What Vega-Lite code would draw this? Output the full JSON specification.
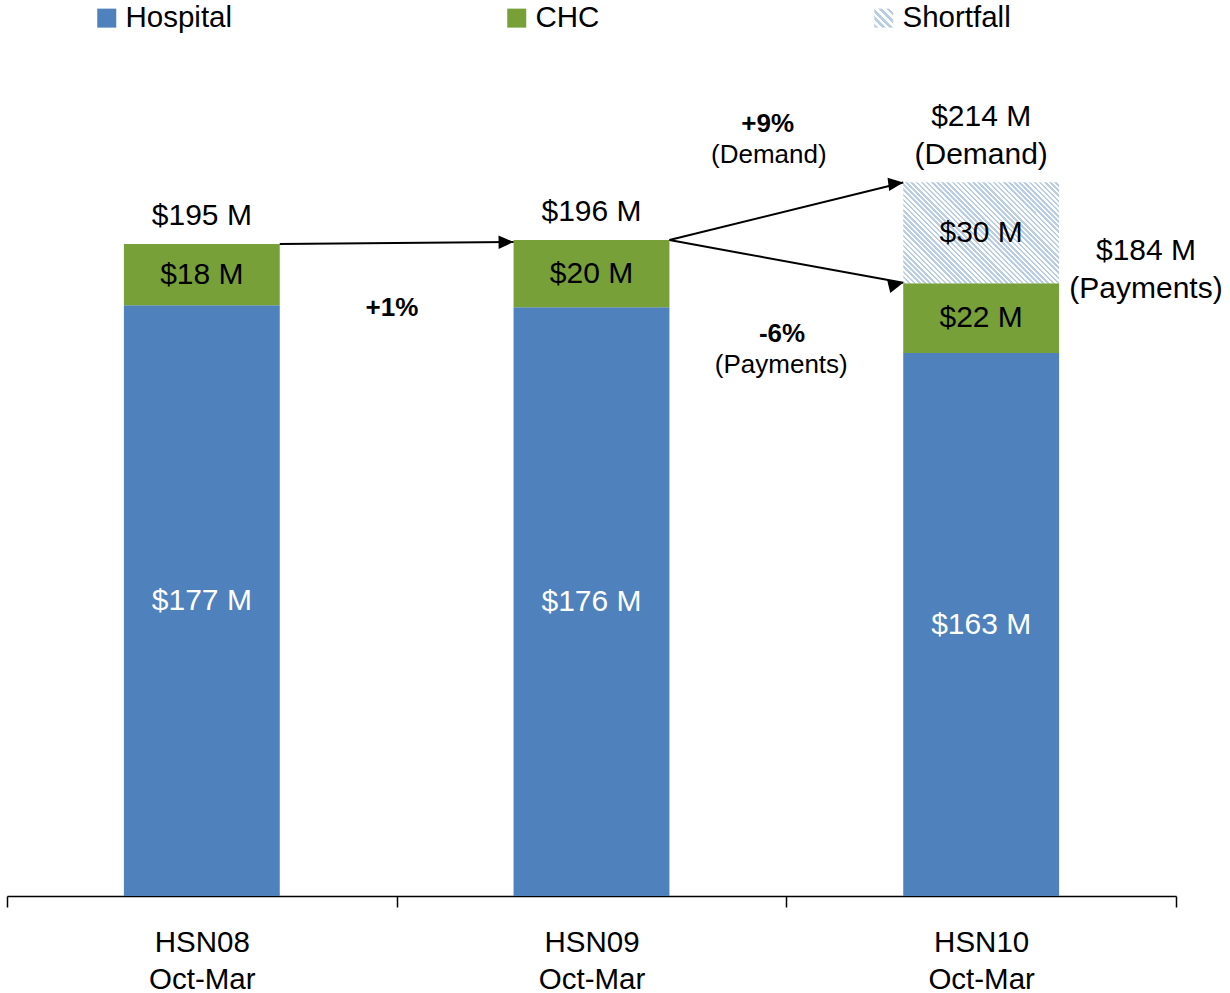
{
"$schema":"https://vega.github.io/schema/vega-lite/v6.json",
"width":1169,"height":896,
"padding":{"left":7,"top":0,"right":54,"bottom":97},
"autosize":{"type":"none"},
"config":{"view":{"stroke":null},"font":"Liberation Sans"},
"datasets":{
"bars":[
{"cat":"HSN08 Oct-Mar","series":"Hospital","idx":1,"value":176.7},
{"cat":"HSN08 Oct-Mar","series":"CHC","idx":2,"value":18.3},
{"cat":"HSN09 Oct-Mar","series":"Hospital","idx":1,"value":176.1},
{"cat":"HSN09 Oct-Mar","series":"CHC","idx":2,"value":20.1},
{"cat":"HSN10 Oct-Mar","series":"Hospital","idx":1,"value":162.4},
{"cat":"HSN10 Oct-Mar","series":"CHC","idx":2,"value":20.9},
{"cat":"HSN10 Oct-Mar","series":"Shortfall","idx":3,"value":30.2}],
"seg":[
{"cat":"HSN08 Oct-Mar","series":"Hospital","mid":88.35,"label":"$177 M"},
{"cat":"HSN08 Oct-Mar","series":"CHC","mid":185.85,"label":"$18 M"},
{"cat":"HSN09 Oct-Mar","series":"Hospital","mid":88.05,"label":"$176 M"},
{"cat":"HSN09 Oct-Mar","series":"CHC","mid":186.15,"label":"$20 M"},
{"cat":"HSN10 Oct-Mar","series":"Hospital","mid":81.2,"label":"$163 M"},
{"cat":"HSN10 Oct-Mar","series":"CHC","mid":172.85,"label":"$22 M"},
{"cat":"HSN10 Oct-Mar","series":"Shortfall","mid":198.4,"label":"$30 M"}],
"totals":[
{"cat":"HSN08 Oct-Mar","total":195.0,"label":"$195 M"},
{"cat":"HSN09 Oct-Mar","total":196.2,"label":"$196 M"}],
"arrows":[
{"id":"a1","u0":0.7,"v0":195.0,"u1":1.3,"v1":195.6},
{"id":"a2","u0":1.7,"v0":196.2,"u1":2.3,"v1":213.4},
{"id":"a3","u0":1.7,"v0":196.2,"u1":2.3,"v1":183.4}],
"annoBold":[
{"t":"+1%","u":0.988,"v":176.0},
{"t":"+9%","u":1.952,"v":230.8},
{"t":"-6%","u":1.989,"v":168.0}],
"annoSmall":[
{"t":"(Demand)","u":1.955,"v":221.5},
{"t":"(Payments)","u":1.987,"v":158.7}],
"annoBig":[
{"t":"$214 M\n(Demand)","u":2.5,"v":233.0},
{"t":"$184 M\n(Payments)","u":2.923,"v":192.9}]
},
"layer":[
{"data":{"name":"bars"},
"mark":{"type":"bar","width":{"band":0.4}},
"encoding":{
"x":{"field":"cat","type":"nominal","scale":{"domain":["HSN08 Oct-Mar","HSN09 Oct-Mar","HSN10 Oct-Mar"],"paddingInner":0,"paddingOuter":0},
"axis":{"title":null,"tickBand":"extent","labelExpr":"split(datum.label, ' ')","labelAngle":0,"labelFontSize":29.5,"labelFont":"Liberation Sans","labelColor":"#000000","labelLineHeight":37,"labelPadding":21,"tickSize":11,"tickColor":"#000000","tickWidth":1.5,"domainColor":"#000000","domainWidth":1.5,"grid":false,"labelLimit":300}},
"y":{"field":"value","type":"quantitative","stack":"zero","scale":{"domain":[0,268],"nice":false,"zero":true},"axis":null},
"order":{"field":"idx","type":"quantitative"},
"color":{"field":"series","type":"nominal",
"scale":{"domain":["Hospital","CHC","Shortfall"],"range":["#4F81BD","#77A038","#B9CDE5"]},
"condition":{"test":"datum.series === 'Shortfall'","value":{"gradient":"linear","x1":0,"y1":1,"x2":1.161,"y2":0.248,"stops":[
{"offset":0,"color":"#b9cde5"},{"offset":0.01,"color":"#b9cde5"},{"offset":0.01,"color":"#fff"},{"offset":0.02,"color":"#fff"},
{"offset":0.02,"color":"#b9cde5"},{"offset":0.03,"color":"#b9cde5"},{"offset":0.03,"color":"#fff"},{"offset":0.04,"color":"#fff"},
{"offset":0.04,"color":"#b9cde5"},{"offset":0.05,"color":"#b9cde5"},{"offset":0.05,"color":"#fff"},{"offset":0.06,"color":"#fff"},
{"offset":0.06,"color":"#b9cde5"},{"offset":0.07,"color":"#b9cde5"},{"offset":0.07,"color":"#fff"},{"offset":0.08,"color":"#fff"},
{"offset":0.08,"color":"#b9cde5"},{"offset":0.09,"color":"#b9cde5"},{"offset":0.09,"color":"#fff"},{"offset":0.1,"color":"#fff"},
{"offset":0.1,"color":"#b9cde5"},{"offset":0.11,"color":"#b9cde5"},{"offset":0.11,"color":"#fff"},{"offset":0.12,"color":"#fff"},
{"offset":0.12,"color":"#b9cde5"},{"offset":0.13,"color":"#b9cde5"},{"offset":0.13,"color":"#fff"},{"offset":0.14,"color":"#fff"},
{"offset":0.14,"color":"#b9cde5"},{"offset":0.15,"color":"#b9cde5"},{"offset":0.15,"color":"#fff"},{"offset":0.16,"color":"#fff"},
{"offset":0.16,"color":"#b9cde5"},{"offset":0.17,"color":"#b9cde5"},{"offset":0.17,"color":"#fff"},{"offset":0.18,"color":"#fff"},
{"offset":0.18,"color":"#b9cde5"},{"offset":0.19,"color":"#b9cde5"},{"offset":0.19,"color":"#fff"},{"offset":0.2,"color":"#fff"},
{"offset":0.2,"color":"#b9cde5"},{"offset":0.21,"color":"#b9cde5"},{"offset":0.21,"color":"#fff"},{"offset":0.22,"color":"#fff"},
{"offset":0.22,"color":"#b9cde5"},{"offset":0.23,"color":"#b9cde5"},{"offset":0.23,"color":"#fff"},{"offset":0.24,"color":"#fff"},
{"offset":0.24,"color":"#b9cde5"},{"offset":0.25,"color":"#b9cde5"},{"offset":0.25,"color":"#fff"},{"offset":0.26,"color":"#fff"},
{"offset":0.26,"color":"#b9cde5"},{"offset":0.27,"color":"#b9cde5"},{"offset":0.27,"color":"#fff"},{"offset":0.28,"color":"#fff"},
{"offset":0.28,"color":"#b9cde5"},{"offset":0.29,"color":"#b9cde5"},{"offset":0.29,"color":"#fff"},{"offset":0.3,"color":"#fff"},
{"offset":0.3,"color":"#b9cde5"},{"offset":0.31,"color":"#b9cde5"},{"offset":0.31,"color":"#fff"},{"offset":0.32,"color":"#fff"},
{"offset":0.32,"color":"#b9cde5"},{"offset":0.33,"color":"#b9cde5"},{"offset":0.33,"color":"#fff"},{"offset":0.34,"color":"#fff"},
{"offset":0.34,"color":"#b9cde5"},{"offset":0.35,"color":"#b9cde5"},{"offset":0.35,"color":"#fff"},{"offset":0.36,"color":"#fff"},
{"offset":0.36,"color":"#b9cde5"},{"offset":0.37,"color":"#b9cde5"},{"offset":0.37,"color":"#fff"},{"offset":0.38,"color":"#fff"},
{"offset":0.38,"color":"#b9cde5"},{"offset":0.39,"color":"#b9cde5"},{"offset":0.39,"color":"#fff"},{"offset":0.4,"color":"#fff"},
{"offset":0.4,"color":"#b9cde5"},{"offset":0.41,"color":"#b9cde5"},{"offset":0.41,"color":"#fff"},{"offset":0.42,"color":"#fff"},
{"offset":0.42,"color":"#b9cde5"},{"offset":0.43,"color":"#b9cde5"},{"offset":0.43,"color":"#fff"},{"offset":0.44,"color":"#fff"},
{"offset":0.44,"color":"#b9cde5"},{"offset":0.45,"color":"#b9cde5"},{"offset":0.45,"color":"#fff"},{"offset":0.46,"color":"#fff"},
{"offset":0.46,"color":"#b9cde5"},{"offset":0.47,"color":"#b9cde5"},{"offset":0.47,"color":"#fff"},{"offset":0.48,"color":"#fff"},
{"offset":0.48,"color":"#b9cde5"},{"offset":0.49,"color":"#b9cde5"},{"offset":0.49,"color":"#fff"},{"offset":0.5,"color":"#fff"},
{"offset":0.5,"color":"#b9cde5"},{"offset":0.51,"color":"#b9cde5"},{"offset":0.51,"color":"#fff"},{"offset":0.52,"color":"#fff"},
{"offset":0.52,"color":"#b9cde5"},{"offset":0.53,"color":"#b9cde5"},{"offset":0.53,"color":"#fff"},{"offset":0.54,"color":"#fff"},
{"offset":0.54,"color":"#b9cde5"},{"offset":0.55,"color":"#b9cde5"},{"offset":0.55,"color":"#fff"},{"offset":0.56,"color":"#fff"},
{"offset":0.56,"color":"#b9cde5"},{"offset":0.57,"color":"#b9cde5"},{"offset":0.57,"color":"#fff"},{"offset":0.58,"color":"#fff"},
{"offset":0.58,"color":"#b9cde5"},{"offset":0.59,"color":"#b9cde5"},{"offset":0.59,"color":"#fff"},{"offset":0.6,"color":"#fff"},
{"offset":0.6,"color":"#b9cde5"},{"offset":0.61,"color":"#b9cde5"},{"offset":0.61,"color":"#fff"},{"offset":0.62,"color":"#fff"},
{"offset":0.62,"color":"#b9cde5"},{"offset":0.63,"color":"#b9cde5"},{"offset":0.63,"color":"#fff"},{"offset":0.64,"color":"#fff"},
{"offset":0.64,"color":"#b9cde5"},{"offset":0.65,"color":"#b9cde5"},{"offset":0.65,"color":"#fff"},{"offset":0.66,"color":"#fff"},
{"offset":0.66,"color":"#b9cde5"},{"offset":0.67,"color":"#b9cde5"},{"offset":0.67,"color":"#fff"},{"offset":0.68,"color":"#fff"},
{"offset":0.68,"color":"#b9cde5"},{"offset":0.69,"color":"#b9cde5"},{"offset":0.69,"color":"#fff"},{"offset":0.7,"color":"#fff"},
{"offset":0.7,"color":"#b9cde5"},{"offset":0.71,"color":"#b9cde5"},{"offset":0.71,"color":"#fff"},{"offset":0.72,"color":"#fff"},
{"offset":0.72,"color":"#b9cde5"},{"offset":0.73,"color":"#b9cde5"},{"offset":0.73,"color":"#fff"},{"offset":0.74,"color":"#fff"},
{"offset":0.74,"color":"#b9cde5"},{"offset":0.75,"color":"#b9cde5"},{"offset":0.75,"color":"#fff"},{"offset":0.76,"color":"#fff"},
{"offset":0.76,"color":"#b9cde5"},{"offset":0.77,"color":"#b9cde5"},{"offset":0.77,"color":"#fff"},{"offset":0.78,"color":"#fff"},
{"offset":0.78,"color":"#b9cde5"},{"offset":0.79,"color":"#b9cde5"},{"offset":0.79,"color":"#fff"},{"offset":0.8,"color":"#fff"},
{"offset":0.8,"color":"#b9cde5"},{"offset":0.81,"color":"#b9cde5"},{"offset":0.81,"color":"#fff"},{"offset":0.82,"color":"#fff"},
{"offset":0.82,"color":"#b9cde5"},{"offset":0.83,"color":"#b9cde5"},{"offset":0.83,"color":"#fff"},{"offset":0.84,"color":"#fff"},
{"offset":0.84,"color":"#b9cde5"},{"offset":0.85,"color":"#b9cde5"},{"offset":0.85,"color":"#fff"},{"offset":0.86,"color":"#fff"},
{"offset":0.86,"color":"#b9cde5"},{"offset":0.87,"color":"#b9cde5"},{"offset":0.87,"color":"#fff"},{"offset":0.88,"color":"#fff"},
{"offset":0.88,"color":"#b9cde5"},{"offset":0.89,"color":"#b9cde5"},{"offset":0.89,"color":"#fff"},{"offset":0.9,"color":"#fff"},
{"offset":0.9,"color":"#b9cde5"},{"offset":0.91,"color":"#b9cde5"},{"offset":0.91,"color":"#fff"},{"offset":0.92,"color":"#fff"},
{"offset":0.92,"color":"#b9cde5"},{"offset":0.93,"color":"#b9cde5"},{"offset":0.93,"color":"#fff"},{"offset":0.94,"color":"#fff"},
{"offset":0.94,"color":"#b9cde5"},{"offset":0.95,"color":"#b9cde5"},{"offset":0.95,"color":"#fff"},{"offset":0.96,"color":"#fff"},
{"offset":0.96,"color":"#b9cde5"},{"offset":0.97,"color":"#b9cde5"},{"offset":0.97,"color":"#fff"},{"offset":0.98,"color":"#fff"},
{"offset":0.98,"color":"#b9cde5"},{"offset":0.99,"color":"#b9cde5"},{"offset":0.99,"color":"#fff"},{"offset":1,"color":"#fff"}]}},
"legend":{"orient":"none","legendX":85,"legendY":3,"direction":"horizontal","title":null,"symbolType":"square","symbolSize":81,"symbolStrokeWidth":10,"labelFontSize":29.5,"labelFont":"Liberation Sans","labelColor":"#000000","labelOffset":4,"columnPadding":259,"padding":0,
"encode":{"symbols":{"update":{"stroke":[{"test":"datum.value === 'Shortfall'","value":{"gradient":"linear","x1":-0.556,"y1":1.556,"x2":1.556,"y2":-0.556,"stops":[
{"offset":0,"color":"#b9cde5"},{"offset":0.1,"color":"#b9cde5"},{"offset":0.1,"color":"#fff"},{"offset":0.2,"color":"#fff"},
{"offset":0.2,"color":"#b9cde5"},{"offset":0.3,"color":"#b9cde5"},{"offset":0.3,"color":"#fff"},{"offset":0.4,"color":"#fff"},
{"offset":0.4,"color":"#b9cde5"},{"offset":0.5,"color":"#b9cde5"},{"offset":0.5,"color":"#fff"},{"offset":0.6,"color":"#fff"},
{"offset":0.6,"color":"#b9cde5"},{"offset":0.7,"color":"#b9cde5"},{"offset":0.7,"color":"#fff"},{"offset":0.8,"color":"#fff"},
{"offset":0.8,"color":"#b9cde5"},{"offset":0.9,"color":"#b9cde5"},{"offset":0.9,"color":"#fff"},{"offset":1,"color":"#fff"}]}},
{"scale":"color","field":"value"}]}}}}
}}},
{"data":{"name":"seg"},
"mark":{"type":"text","fontSize":30,"baseline":"middle","align":"center","font":"Liberation Sans"},
"encoding":{
"x":{"field":"cat","type":"nominal","scale":{"domain":["HSN08 Oct-Mar","HSN09 Oct-Mar","HSN10 Oct-Mar"],"paddingInner":0,"paddingOuter":0},"axis":null},
"y":{"field":"mid","type":"quantitative","scale":{"domain":[0,268],"nice":false,"zero":true},"axis":null},
"text":{"field":"label"},
"color":{"condition":{"test":"datum.series === 'Hospital'","value":"#FFFFFF"},"value":"#000000"}}},
{"data":{"name":"totals"},
"mark":{"type":"text","fontSize":30,"baseline":"bottom","align":"center","dy":-13,"color":"#000000","font":"Liberation Sans"},
"encoding":{
"x":{"field":"cat","type":"nominal","scale":{"domain":["HSN08 Oct-Mar","HSN09 Oct-Mar","HSN10 Oct-Mar"],"paddingInner":0,"paddingOuter":0},"axis":null},
"y":{"field":"total","type":"quantitative","scale":{"domain":[0,268],"nice":false,"zero":true},"axis":null},
"text":{"field":"label"}}},
{"data":{"name":"arrows"},
"mark":{"type":"rule","color":"#000000","strokeWidth":2},
"encoding":{
"x":{"field":"u0","type":"quantitative","scale":{"domain":[0,3],"nice":false,"zero":false},"axis":null},
"x2":{"field":"u1"},
"y":{"field":"v0","type":"quantitative","scale":{"domain":[0,268],"nice":false,"zero":true},"axis":null},
"y2":{"field":"v1"}}},
{"data":{"name":"arrows"},
"mark":{"type":"point","shape":"M0,0L-1,-0.45L-1,0.45Z","filled":true,"color":"#000000","size":900,"opacity":1,"strokeWidth":0},
"encoding":{
"x":{"field":"u1","type":"quantitative","scale":{"domain":[0,3],"nice":false,"zero":false},"axis":null},
"y":{"field":"v1","type":"quantitative","scale":{"domain":[0,268],"nice":false,"zero":true},"axis":null},
"angle":{"field":"id","type":"nominal","scale":{"domain":["a1","a2","a3"],"range":[359.5,346.2,10.4]},"legend":null}}},
{"data":{"name":"annoBold"},
"mark":{"type":"text","fontSize":26,"fontWeight":"bold","baseline":"middle","align":"center","color":"#000000","font":"Liberation Sans"},
"encoding":{
"x":{"field":"u","type":"quantitative","scale":{"domain":[0,3],"nice":false,"zero":false},"axis":null},
"y":{"field":"v","type":"quantitative","scale":{"domain":[0,268],"nice":false,"zero":true},"axis":null},
"text":{"field":"t"}}},
{"data":{"name":"annoSmall"},
"mark":{"type":"text","fontSize":26,"baseline":"middle","align":"center","color":"#000000","font":"Liberation Sans"},
"encoding":{
"x":{"field":"u","type":"quantitative","scale":{"domain":[0,3],"nice":false,"zero":false},"axis":null},
"y":{"field":"v","type":"quantitative","scale":{"domain":[0,268],"nice":false,"zero":true},"axis":null},
"text":{"field":"t"}}},
{"data":{"name":"annoBig"},
"mark":{"type":"text","fontSize":30,"baseline":"middle","align":"center","lineBreak":"\n","lineHeight":38,"color":"#000000","font":"Liberation Sans"},
"encoding":{
"x":{"field":"u","type":"quantitative","scale":{"domain":[0,3],"nice":false,"zero":false},"axis":null},
"y":{"field":"v","type":"quantitative","scale":{"domain":[0,268],"nice":false,"zero":true},"axis":null},
"text":{"field":"t"}}}
],
"resolve":{"scale":{"x":"independent"}}
}
